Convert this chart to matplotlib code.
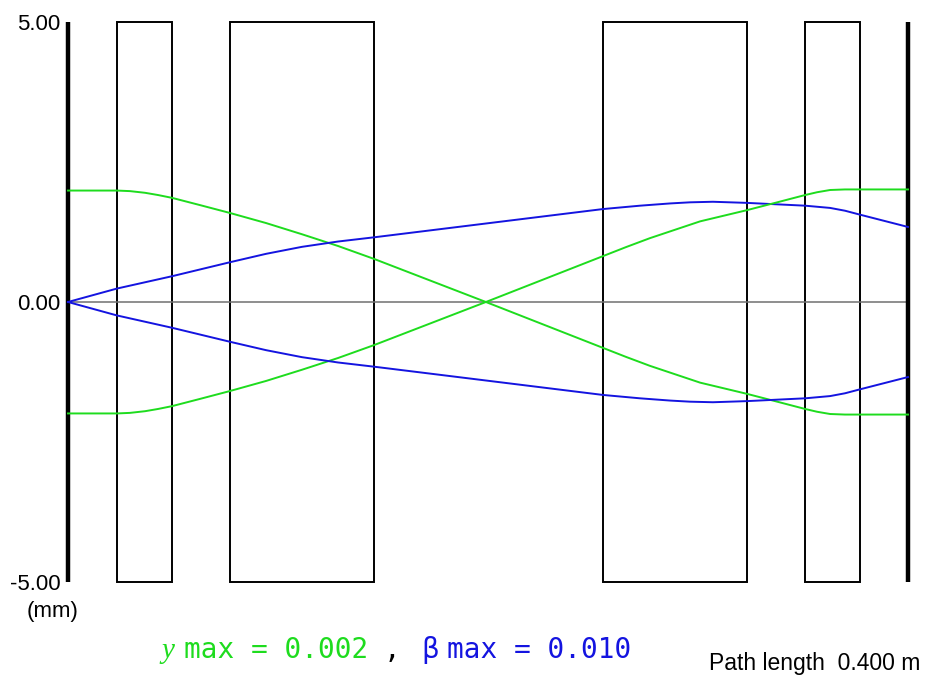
import matplotlib.pyplot as plt
from matplotlib.patches import Rectangle

# beamline: total length in metres, element boundaries along z (m)
path_length = 0.400
element_edges = [(0.0233, 0.0495), (0.0771, 0.1457), (0.2548, 0.3233), (0.3510, 0.3771)]

# position ray (y) and angle ray (beta), upper trajectory in mm; lower one is mirrored
z_y = [0.0, 0.0233, 0.0295, 0.0367, 0.0429, 0.0495, 0.0629, 0.0771, 0.0943, 0.1114,
       0.1286, 0.1457, 0.1990, 0.2548, 0.2657, 0.2771, 0.3010, 0.3233, 0.3367, 0.3510,
       0.3567, 0.3629, 0.3700, 0.3771, 0.4000]
y_ray = [1.99, 1.99, 1.98, 1.95, 1.91, 1.86, 1.73, 1.59, 1.41, 1.21,
         1.00, 0.77, 0.00, -0.82, -0.98, -1.14, -1.44, -1.64, -1.77, -1.91,
         -1.96, -2.00, -2.01, -2.01, -2.01]

z_b = [0.0, 0.0233, 0.0495, 0.0771, 0.0943, 0.1114, 0.1286, 0.1457, 0.2548, 0.2724,
       0.2867, 0.2962, 0.3071, 0.3233, 0.3510, 0.3629, 0.3700, 0.3771, 0.4000]
b_ray = [0.00, 0.24, 0.46, 0.71, 0.86, 0.985, 1.08, 1.155, 1.66, 1.72,
         1.76, 1.78, 1.79, 1.77, 1.72, 1.68, 1.63, 1.56, 1.34]

y_max = 0.002
beta_max = 0.010
y_lim = 5.0

green = '#1edc1e'
blue = '#1414e0'

fig = plt.figure(figsize=(9.25, 6.83), dpi=100)
ax = fig.add_axes([68 / 925, 101 / 683, 840 / 925, 560 / 683])
ax.set_xlim(0, path_length)
ax.set_ylim(-y_lim, y_lim)
ax.axis('off')

for z0, z1 in element_edges:
    ax.add_patch(Rectangle((z0, -y_lim), z1 - z0, 2 * y_lim, fill=False,
                           edgecolor='black', linewidth=1.4, clip_on=False))

ax.plot([0, path_length], [0, 0], color='#707070', linewidth=1.1)
for zz in (0, path_length):
    ax.plot([zz, zz], [-y_lim, y_lim], color='black', linewidth=3.2,
            solid_capstyle='butt', clip_on=False)

for s in (1, -1):
    ax.plot(z_y, [s * v for v in y_ray], color=green, linewidth=1.4, clip_on=False)
    ax.plot(z_b, [s * v for v in b_ray], color=blue, linewidth=1.4, clip_on=False)

for v in (y_lim, 0, -y_lim):
    ax.text(-0.0035, v - 0.05, f'{v:.2f}', ha='right', va='center',
            fontsize=16, family='Liberation Sans')
fig.text(53 / 925, 1 - 612 / 683, '(mm)', ha='center', va='center',
         fontsize=16, family='Liberation Sans')

# ray summary line
base = 1 - 658 / 683
fig.text(161 / 925, base, 'y', color=green, fontsize=21, style='italic',
         family='Liberation Serif', va='baseline')
fig.text(184 / 925, base, f'max = {y_max:.3f}', color=green,
         fontsize=20, family='DejaVu Sans Mono', va='baseline')
fig.text(384 / 925, base, ',', color='black', fontsize=20,
         family='DejaVu Sans Mono', va='baseline')
fig.text(421 / 925, base, 'β', color=blue, fontsize=20,
         family='DejaVu Sans', va='baseline')
fig.text(447 / 925, base, f'max = {beta_max:.3f}', color=blue,
         fontsize=20, family='DejaVu Sans Mono', va='baseline')

fig.text(920 / 925, 1 - 670 / 683, f'Path length  {path_length:.3f} m',
         ha='right', va='baseline', fontsize=16.5, family='Liberation Sans')

fig.savefig('out.png', dpi=100)
